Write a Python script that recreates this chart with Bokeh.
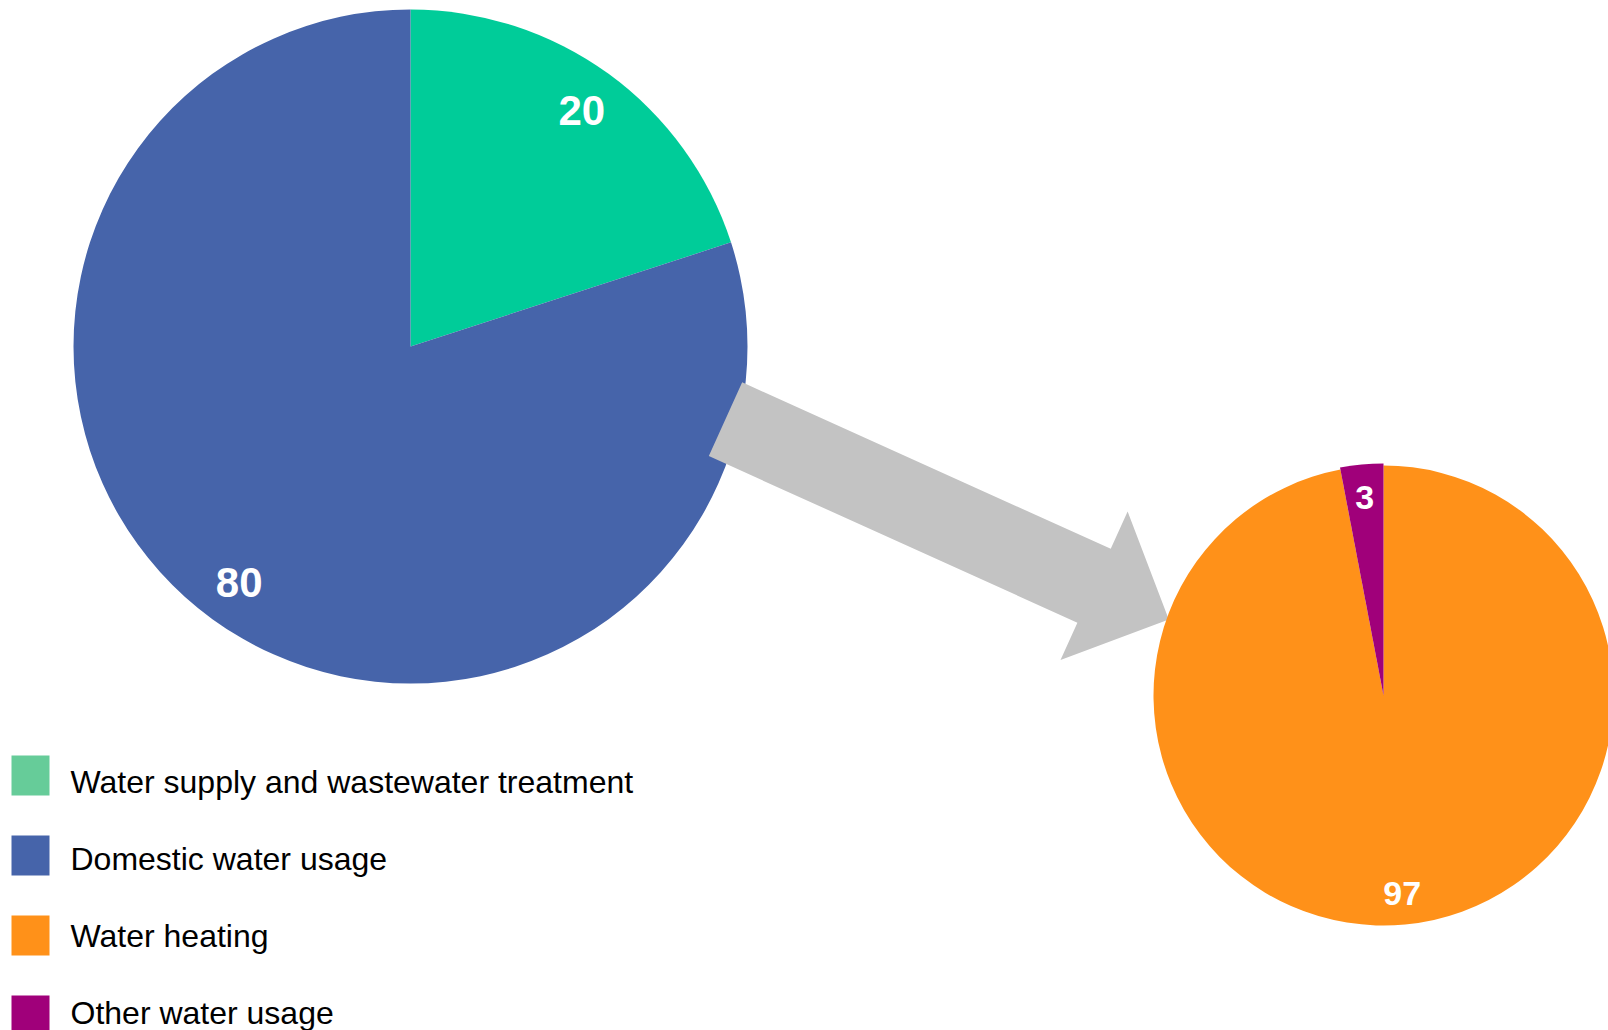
import numpy as np
from bokeh.plotting import figure
from bokeh.models import Range1d, ColumnDataSource
from bokeh.core.properties import value
from bokeh.embed import file_html
from bokeh.resources import INLINE

# ---- data ----
main_labels = ["Water supply and wastewater treatment", "Domestic water usage"]
main_values = [20, 80]
main_colors = ["#00CC99", "#4664AA"]

sub_labels = ["Water heating", "Other water usage"]
sub_values = [97, 3]
sub_colors = ["#FF9119", "#A0007A"]

legend_labels = ["Water supply and wastewater treatment", "Domestic water usage",
                 "Water heating", "Other water usage"]
legend_colors = ["#66CC99", "#4664AA", "#FF9119", "#A0007A"]

# ---- layout (screen pixel coordinates) ----
W, H = 1608, 1030


def sy(s):
    return H - s


p = figure(width=W, height=H, output_backend="svg", toolbar_location=None,
           x_range=Range1d(0, W), y_range=Range1d(0, H), min_border=0)
p.axis.visible = False
p.grid.visible = False
p.outline_line_color = None
p.background_fill_color = "white"
p.border_fill_color = "white"


def draw_pie(cx, cy, r, values, colors, extra_r=None):
    total = float(sum(values))
    cum = 0.0
    xs, ys, ss, es, cs, rs = [], [], [], [], [], []
    lx, ly, lt = [], [], []
    for i, (v, c) in enumerate(zip(values, colors)):
        end = np.pi / 2 - 2 * np.pi * cum / total
        start = end - 2 * np.pi * v / total
        xs.append(cx); ys.append(cy); ss.append(start); es.append(end); cs.append(c)
        rs.append(r + (extra_r[i] if extra_r else 0))
        mid = (start + end) / 2
        lx.append(cx + 0.865 * r * np.cos(mid))
        ly.append(cy + 0.865 * r * np.sin(mid))
        lt.append(str(v))
        cum += v
    src = ColumnDataSource(dict(x=xs, y=ys, s=ss, e=es, c=cs, r=rs))
    p.wedge(x="x", y="y", radius="r", start_angle="s", end_angle="e",
            fill_color="c", line_color=None, source=src)
    return lx, ly, lt


# main pie
c1x, c1y, r1 = 410, sy(346), 337
lab1 = draw_pie(c1x, c1y, r1, main_values, main_colors)

# arrow (drawn over the main pie)
tail = np.array([725.0, 418.7])
tip = np.array([1168.3, 619.0])
shaft_w, head_w, head_len = 81.0, 163.0, 82.0
d = tip - tail
u = d / np.hypot(*d)
n = np.array([-u[1], u[0]])
base = tip - u * head_len
pts = [tail + n * shaft_w / 2, base + n * shaft_w / 2, base + n * head_w / 2, tip,
       base - n * head_w / 2, base - n * shaft_w / 2, tail - n * shaft_w / 2]
p.patch(x=[q[0] for q in pts], y=[sy(q[1]) for q in pts], fill_color="#C3C3C3",
        line_color=None)

# sub pie
c2x, c2y, r2 = 1383, sy(695), 230
lab2 = draw_pie(c2x, c2y, r2, sub_values, sub_colors, extra_r=[0, 2])

p.text(x=lab1[0], y=lab1[1], text=lab1[2], text_color="white",
       text_font=value("Liberation Sans"), text_font_style="bold",
       text_font_size="42px", text_align="center", text_baseline="middle")
p.text(x=lab2[0], y=lab2[1], text=lab2[2], text_color="white",
       text_font=value("Liberation Sans"), text_font_style="bold",
       text_font_size="34px", text_align="center", text_baseline="middle")

# legend
rows = np.arange(len(legend_labels))
sq_y = 775 + 80 * rows
txt_y = 781 + 77 * rows
p.rect(x=[30] * len(rows), y=[sy(v) for v in sq_y], width=38, height=40,
       fill_color=legend_colors, line_color=None)
p.text(x=[70] * len(rows), y=[sy(v) for v in txt_y], text=legend_labels,
       text_color="black", text_font=value("Liberation Sans"),
       text_font_size="32px", text_align="left", text_baseline="middle")

open("out.html", "w").write(file_html(p, INLINE))
